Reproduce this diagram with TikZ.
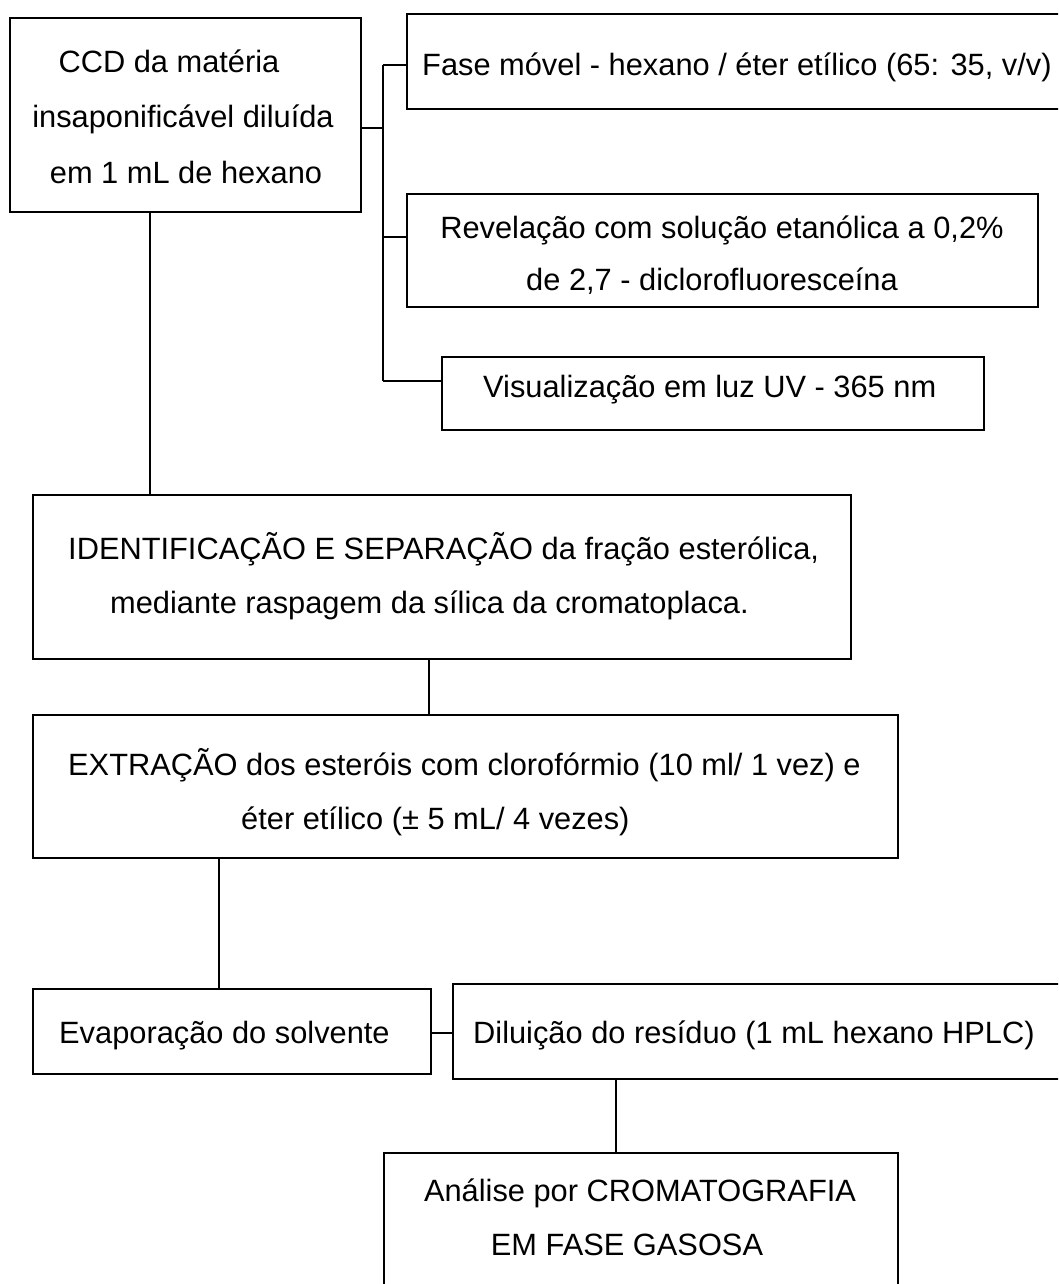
\documentclass[tikz,border=0pt]{standalone}
\usepackage{fontspec}
\setmainfont{Liberation Sans}
\begin{document}
\begin{tikzpicture}[x=1pt,y=-1pt,
  box/.style={draw=black, line width=1.8pt, inner sep=0pt, anchor=north west},
  conn/.style={draw=black, line width=1.8pt},
  txt/.style={inner sep=0pt, anchor=base, font=\fontsize{30.8pt}{55pt}\selectfont},
  txtl/.style={txt, anchor=base west}]
\path[use as bounding box] (0,0) rectangle (1058,1284);
\clip (0,0) rectangle (1058,1284);
\fill[white] (0,0) rectangle (1058,1284);
% boxes
\node[box, minimum width=351pt, minimum height=194pt] (ccd) at (9,17) {};
\node[box, minimum width=700pt, minimum height=95pt] (fase) at (406,13) {};
\node[box, minimum width=631pt, minimum height=113pt] (rev) at (406,193) {};
\node[box, minimum width=542pt, minimum height=73pt] (vis) at (441,356) {};
\node[box, minimum width=818pt, minimum height=164pt] (ident) at (32,494) {};
\node[box, minimum width=865pt, minimum height=143pt] (extr) at (32,714) {};
\node[box, minimum width=398pt, minimum height=85pt] (evap) at (32,988) {};
\node[box, minimum width=650pt, minimum height=95pt] (dilu) at (452,983) {};
\node[box, minimum width=514pt, minimum height=200pt] (anal) at (383,1152) {};
% texts
\node[txt] (ccd1) at (169,73) {CCD da matéria};
\node[txt] (ccd2) at (183,128) {insaponificável diluída};
\node[txt] (ccd3) at (186,183) {em 1 mL de hexano};
\node[txtl] (fase1) at (422,76) {Fase móvel - hexano / éter etílico (65: 35, v/v)};
\node[txt] (rev1) at (722,238) {Revelação com solução etanólica a 0,2\%};
\node[txt] (rev2) at (712,290) {de 2,7 - diclorofluoresceína};
\node[txtl] (vis1) at (483,397) {Visualização em luz UV - 365 nm};
\node[txtl] (ident1) at (68,559) {IDENTIFICAÇÃO E SEPARAÇÃO da fração esterólica,};
\node[txtl] (ident2) at (110,613) {mediante raspagem da sílica da cromatoplaca.};
\node[txtl] (extr1) at (68,775) {EXTRAÇÃO dos esteróis com clorofórmio (10 ml/ 1 vez) e};
\node[txtl] (extr2) at (241,829) {éter etílico (± 5 mL/ 4 vezes)};
\node[txtl] (evap1) at (59,1043) {Evaporação do solvente};
\node[txtl] (dilu1) at (473,1043) {Diluição do resíduo (1 mL hexano HPLC)};
\node[txt] (anal1) at (640,1201) {Análise por CROMATOGRAFIA};
\node[txt] (anal2) at (627,1255) {EM FASE GASOSA};
% connector coordinates
\coordinate (busout) at (383,128);
\coordinate (bustop) at (383,65);
\coordinate (busrev) at (383,237);
\coordinate (busbot) at (383,381);
\coordinate (xccd) at (150,0);
\coordinate (xident) at (429,0);
\coordinate (xextr) at (219,0);
\coordinate (yevap) at (0,1033);
\coordinate (xdilu) at (616,0);
% connectors
\draw[conn] (ccd.east |- busout) -- (busout);
\draw[conn] (bustop) -- (busbot);
\draw[conn] (bustop) -- (bustop -| fase.west);
\draw[conn] (busrev) -- (busrev -| rev.west);
\draw[conn] (busbot) -- (busbot -| vis.west);
\draw[conn] (ccd.south -| xccd) -- (ident.north -| xccd);
\draw[conn] (ident.south -| xident) -- (extr.north -| xident);
\draw[conn] (extr.south -| xextr) -- (evap.north -| xextr);
\draw[conn] (evap.east |- yevap) -- (dilu.west |- yevap);
\draw[conn] (dilu.south -| xdilu) -- (anal.north -| xdilu);
\end{tikzpicture}
\end{document}
